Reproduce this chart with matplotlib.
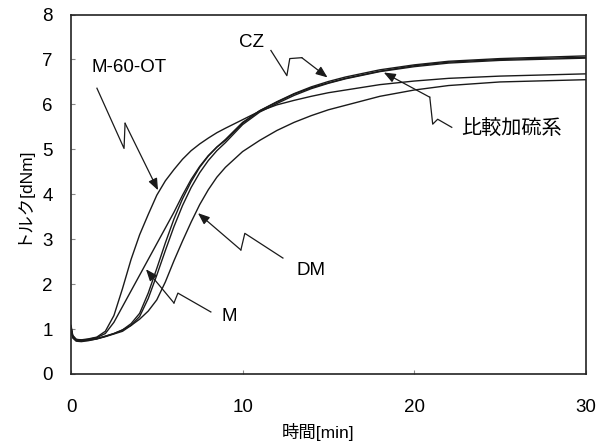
import matplotlib
matplotlib.use("Agg")
import matplotlib.pyplot as plt

# ---- data ----
t_common = [0, 0.1, 0.3, 0.6, 1.0, 1.5, 2.0, 2.5, 3.0, 3.5, 4.0, 4.5, 5.0, 5.5, 6.0, 6.5,
            7.0, 7.5, 8.0, 8.5, 9.0, 10, 11, 12, 13, 14, 15, 16, 18, 20, 22, 25, 30]

torque_m60ot = [1.05, 0.85, 0.77, 0.76, 0.78, 0.82, 0.95, 1.30, 1.90, 2.55, 3.10, 3.55, 3.98,
                4.30, 4.55, 4.78, 4.97, 5.12, 5.25, 5.37, 5.47, 5.66, 5.85, 5.99, 6.09, 6.18,
                6.26, 6.32, 6.44, 6.52, 6.58, 6.63, 6.68]
torque_m = [1.02, 0.83, 0.76, 0.75, 0.77, 0.81, 0.90, 1.15, 1.50, 1.85, 2.20, 2.55, 2.90,
            3.25, 3.60, 3.98, 4.33, 4.62, 4.86, 5.05, 5.20, 5.58, 5.86, 6.05, 6.23, 6.37,
            6.48, 6.58, 6.74, 6.86, 6.94, 7.00, 7.05]
torque_cz = [1.08, 0.86, 0.77, 0.75, 0.76, 0.79, 0.84, 0.90, 0.98, 1.12, 1.35, 1.80, 2.35,
             2.92, 3.45, 3.90, 4.28, 4.60, 4.85, 5.05, 5.22, 5.60, 5.86, 6.06, 6.24, 6.39,
             6.51, 6.61, 6.77, 6.88, 6.96, 7.02, 7.08]
torque_hikaku = [1.00, 0.82, 0.75, 0.74, 0.75, 0.78, 0.83, 0.89, 0.95, 1.08, 1.28, 1.68, 2.20,
                 2.75, 3.28, 3.75, 4.15, 4.48, 4.75, 4.97, 5.15, 5.55, 5.83, 6.02, 6.20, 6.35,
                 6.47, 6.57, 6.73, 6.84, 6.92, 6.98, 7.03]
torque_dm = [1.00, 0.80, 0.73, 0.72, 0.74, 0.78, 0.84, 0.90, 0.98, 1.08, 1.22, 1.40, 1.65,
             2.05, 2.52, 2.96, 3.38, 3.77, 4.10, 4.38, 4.60, 4.95, 5.20, 5.42, 5.60, 5.75,
             5.88, 5.98, 6.18, 6.32, 6.42, 6.50, 6.55]

x_ticks = [0, 10, 20, 30]
y_ticks = [0, 1, 2, 3, 4, 5, 6, 7, 8]
x_label = "時間[min]"
y_label = "トルク[dNm]"

series = [torque_m60ot, torque_m, torque_cz, torque_hikaku, torque_dm]

# annotation labels: text, text position, leader path (start ... last bend), arrow tip
annotations = [
    ("M-60-OT", (3.38, 6.82), [(1.51, 6.36), (3.09, 5.02), (3.15, 5.58)], (5.07, 4.09)),
    ("CZ", (10.54, 7.38), [(11.65, 7.20), (12.58, 6.64), (12.75, 7.02), (13.45, 7.04)], (14.95, 6.60)),
    ("比較加硫系", (25.68, 5.44), [(22.19, 5.49), (21.37, 5.67), (21.08, 5.56), (20.91, 6.16)], (18.23, 6.71)),
    ("DM", (13.98, 2.31), [(12.35, 2.58), (10.13, 3.13), (9.90, 2.76)], (7.40, 3.58)),
    ("M", (9.20, 1.29), [(8.15, 1.38), (6.23, 1.80), (6.00, 1.58)], (4.37, 2.33)),
]

FAM = ["Liberation Sans", "Noto Sans CJK JP"]
plt.rcParams["font.family"] = FAM

fig = plt.figure(figsize=(6.07, 4.41), dpi=100)
ax = fig.add_axes([0.117, 0.152, 0.848, 0.815])

for s in series:
    ax.plot(t_common, s, color="#1a1a1a", lw=1.0)

for text, tpos, path, tip in annotations:
    xs = [p[0] for p in path]
    ys = [p[1] for p in path]
    ax.plot(xs, ys, color="#1a1a1a", lw=0.9)
    ax.annotate("", xy=tip, xytext=path[-1],
                arrowprops=dict(arrowstyle="-|>,head_length=0.7,head_width=0.28",
                                color="#1a1a1a", lw=0.9, shrinkA=0, shrinkB=0,
                                mutation_scale=10))
    fs = 14.5 if any(ord(c) > 0x3000 for c in text) else 13.5
    ax.text(tpos[0], tpos[1], text, ha="center", va="center", fontsize=fs,
            family=FAM)

ax.set_xlim(0, 30)
ax.set_ylim(0, 8)
ax.set_xticks(x_ticks)
ax.set_yticks(y_ticks)
ax.tick_params(direction="in", length=3, width=0.8, labelsize=13.5, color="#888")
ax.tick_params(axis="x", pad=18)
ax.tick_params(axis="y", pad=13)
for sp in ax.spines.values():
    sp.set_linewidth(1.2)
    sp.set_color("#222")

ax.set_xlabel(x_label, fontsize=12.5, family=FAM)
ax.set_ylabel(y_label, fontsize=12.5, family=FAM)
ax.xaxis.set_label_coords(0.48, -0.136)
ax.yaxis.set_label_coords(-0.08, 0.5)

fig.savefig("out.png", dpi=100)
